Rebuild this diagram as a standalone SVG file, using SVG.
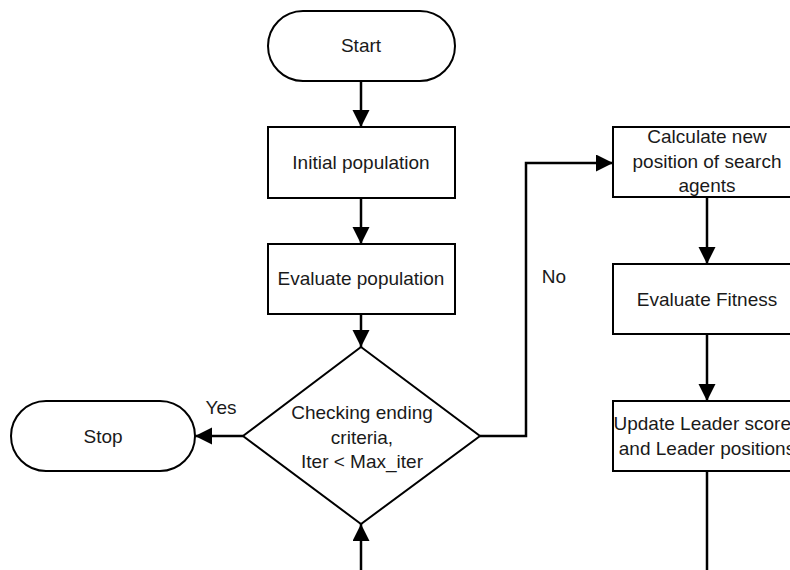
<svg xmlns="http://www.w3.org/2000/svg" width="790" height="570" viewBox="0 0 790 570">
<style>
.shape{fill:#fff;stroke:#000;stroke-width:2}
.t{font-family:"Liberation Sans",Arial,sans-serif;font-size:19px;fill:#1a1a1a;text-anchor:middle}
.c{fill:none;stroke:#000;stroke-width:2.5}
</style>
<defs>
<marker id="ah" markerUnits="userSpaceOnUse" markerWidth="18" markerHeight="18" refX="17" refY="8.5" orient="auto">
<path d="M0,0 L17,8.5 L0,17 Z" fill="#000"/>
</marker>
</defs>
<rect width="790" height="570" fill="#fff"/>
<g id="connectors">
<line class="c" x1="361" y1="81" x2="361" y2="127" marker-end="url(#ah)"/>
<line class="c" x1="361" y1="198" x2="361" y2="244" marker-end="url(#ah)"/>
<line class="c" x1="361" y1="314" x2="361" y2="347" marker-end="url(#ah)"/>
<line class="c" x1="243" y1="436" x2="195" y2="436" marker-end="url(#ah)"/>
<line class="c" x1="361" y1="570" x2="361" y2="524" marker-end="url(#ah)"/>
<polyline class="c" points="480,436 526,436 526,163 613,163" marker-end="url(#ah)"/>
<line class="c" x1="707" y1="197" x2="707" y2="264" marker-end="url(#ah)"/>
<line class="c" x1="707" y1="334" x2="707" y2="401" marker-end="url(#ah)"/>
<line class="c" x1="707" y1="471" x2="707" y2="570"/>
<text class="t" x="221" y="414">Yes</text>
<text class="t" x="554" y="283">No</text>
</g>
<g id="start">
<rect class="shape" x="268" y="11" width="187" height="70" rx="35" ry="35"/>
<text class="t" x="361" y="52">Start</text>
</g>
<g id="init">
<rect class="shape" x="268" y="127" width="187" height="71"/>
<text class="t" x="361" y="169">Initial population</text>
</g>
<g id="evalpop">
<rect class="shape" x="268" y="244" width="187" height="70"/>
<text class="t" x="361" y="285">Evaluate population</text>
</g>
<g id="check">
<polygon class="shape" points="361,347 480,436 361,524 243,436"/>
<text class="t" x="362" y="419">Checking ending</text>
<text class="t" x="362" y="444">criteria,</text>
<text class="t" x="362" y="468">Iter &lt; Max_iter</text>
</g>
<g id="stop">
<rect class="shape" x="11" y="401" width="184" height="70" rx="35" ry="35"/>
<text class="t" x="103" y="443">Stop</text>
</g>
<g id="calc">
<rect class="shape" x="613" y="127" width="188" height="70"/>
<text class="t" x="707" y="143">Calculate new</text>
<text class="t" x="707" y="168">position of search</text>
<text class="t" x="707" y="192">agents</text>
</g>
<g id="fitness">
<rect class="shape" x="613" y="264" width="188" height="70"/>
<text class="t" x="707" y="306">Evaluate Fitness</text>
</g>
<g id="update">
<rect class="shape" x="613" y="401" width="188" height="70"/>
<text class="t" x="707" y="430">Update Leader scores</text>
<text class="t" x="707" y="455">and Leader positions</text>
</g>
</svg>
